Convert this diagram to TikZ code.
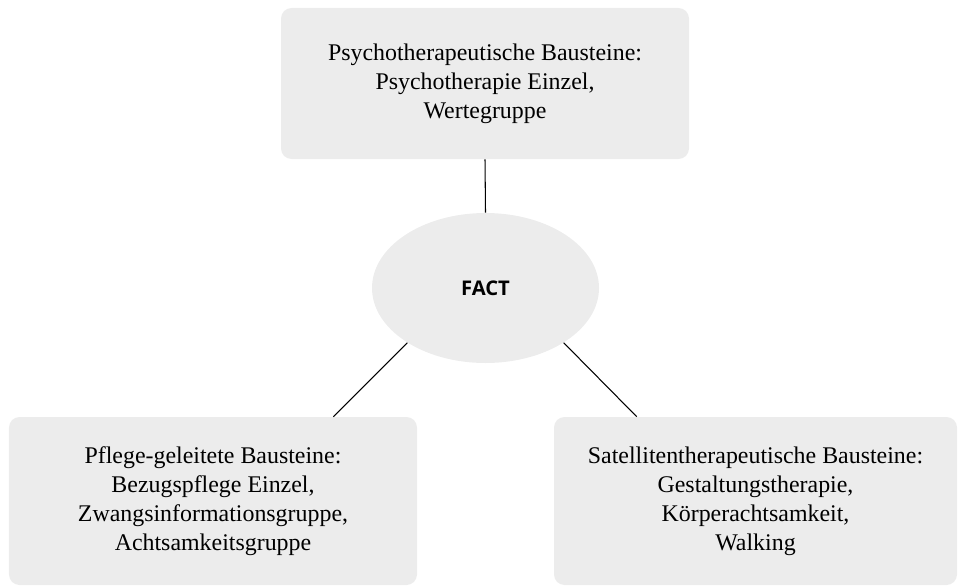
\documentclass[tikz,border=0pt]{standalone}
\usepackage{fontspec}
\setmainfont{Liberation Serif}
\newfontfamily\factfont{Open Sans}
\usetikzlibrary{shapes.geometric,calc}
\definecolor{boxgray}{HTML}{ECECEC}

\begin{document}
\begin{tikzpicture}[
    box/.style={fill=boxgray, rounded corners=6pt, minimum width=8.16cm, minimum height=3.36cm,
                font=\fontsize{13.6}{16.5}\selectfont, align=center, inner sep=0pt},
    core/.style={ellipse, fill=boxgray, minimum width=4.54cm, minimum height=3.0cm,
                 inner sep=0pt, font=\factfont\bfseries\fontsize{11.5}{14}\selectfont},
    link/.style={line width=0.6pt},
]
\useasboundingbox (0,0) rectangle (19.18,-11.72);
\node[box, minimum height=3.02cm] (psy) at (9.70,-1.67)
    {Psychotherapeutische Bausteine:\\Psychotherapie Einzel,\\Wertegruppe};
\node[core] (fact) at (9.71,-5.76) {FACT};
\node[box] (pflege) at (4.26,-10.02)
    {Pflege-geleitete Bausteine:\\Bezugspflege Einzel,\\Zwangsinformationsgruppe,\\Achtsamkeitsgruppe};
\node[box, minimum width=8.06cm] (sat) at (15.11,-10.02)
    {Satellitentherapeutische Bausteine:\\Gestaltungstherapie,\\Körperachtsamkeit,\\Walking};
\draw[link] (psy.south) -- (fact.north);
\draw[link] (fact.215) -- ($(pflege.north east)+(-1.68,0)$);
\draw[link] (fact.325) -- ($(sat.north west)+(1.66,0)$);
\end{tikzpicture}
\end{document}
